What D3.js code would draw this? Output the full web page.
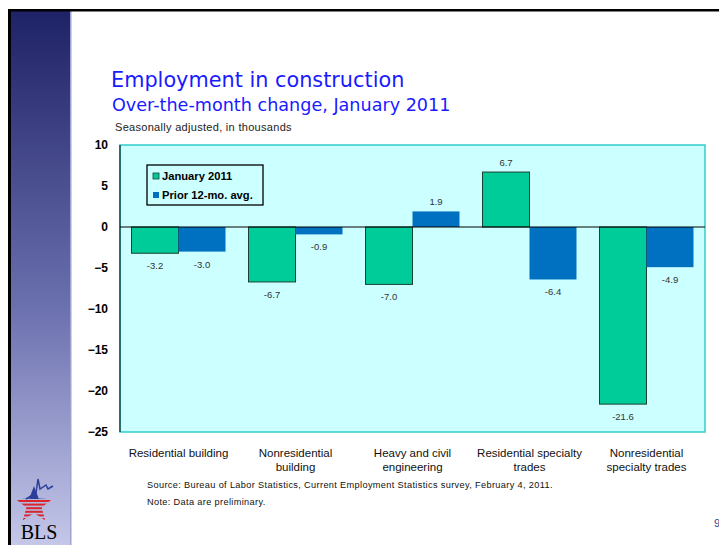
<!DOCTYPE html>
<html>
<head>
<meta charset="utf-8">
<script src="https://cdn.jsdelivr.net/npm/d3@7"></script>
<style>
  body { margin: 0; background: #fff; }
  svg { display: block; font-family: Arial, "Liberation Sans", sans-serif; }
</style>
</head>
<body>
<svg id="chart" width="719" height="545"></svg>
<script>
const categories = [
    ["Residential building"],
    ["Nonresidential", "building"],
    ["Heavy and civil", "engineering"],
    ["Residential specialty", "trades"],
    ["Nonresidential", "specialty trades"]
];
const series_names = ["January 2011", "Prior 12-mo. avg."];
const jan_2011 = [-3.2, -6.7, -7.0, 6.7, -21.6];
const prior_avg = [-3.0, -0.9, 1.9, -6.4, -4.9];
const y_ticks = [10, 5, 0, -5, -10, -15, -20, -25];

const series_colors = ["#00CC99", "#0070C0"];
const series_strokes = ["#1a4030", "none"];

const svg = d3.select("#chart");

// slide chrome: sidebar gradient, top rule, left rule
let defs = svg.append("defs");
let grad = defs.append("linearGradient")
    .attr("id", "side-grad")
    .attr("x1", 0).attr("y1", 0).attr("x2", 0).attr("y2", 1);
grad.append("stop").attr("offset", "0%").attr("stop-color", "#1e2266");
grad.append("stop").attr("offset", "55%").attr("stop-color", "#6a6fae");
grad.append("stop").attr("offset", "100%").attr("stop-color", "#c4c7e8");

svg.append("rect").attr("x", 11).attr("y", 11).attr("width", 59).attr("height", 534)
    .attr("fill", "url(#side-grad)");
svg.append("rect").attr("x", 70).attr("y", 11).attr("width", 1.5).attr("height", 534)
    .attr("fill", "#9da2d0");
svg.append("rect").attr("x", 8).attr("y", 9).attr("width", 711).attr("height", 2.5).attr("fill", "#000");
svg.append("rect").attr("x", 8).attr("y", 9).attr("width", 3).attr("height", 536).attr("fill", "#000");

// BLS logo (rough)
let logo = svg.append("g").attr("transform", "translate(34,503)");
let star = d3.range(10).map(i => {
    let r = i % 2 === 0 ? 19 : 8;
    let a = -Math.PI / 2 + i * Math.PI / 5;
    return [r * Math.cos(a), r * Math.sin(a) + 2];
});
defs.append("clipPath").attr("id", "star-clip")
    .append("polygon").attr("points", star.map(p => p.join(",")).join(" "));
let star_g = logo.append("g").attr("clip-path", "url(#star-clip)");
star_g.append("rect").attr("x", -22).attr("y", -20).attr("width", 44).attr("height", 16).attr("fill", "#2b3f9a");
d3.range(7).forEach(i => {
    star_g.append("rect").attr("x", -22).attr("y", -3 + i * 3.6).attr("width", 44).attr("height", 2)
        .attr("fill", "#d8262c");
});
logo.append("path")
    .attr("d", "M-8,-4 L2,-10 L4,-24 L6,-14 L12,-18 L14,-14 L19,-17")
    .attr("fill", "none").attr("stroke", "#2b3f9a").attr("stroke-width", 1.5);
svg.append("text").attr("x", 39).attr("y", 539).attr("text-anchor", "middle")
    .attr("font-family", "'Liberation Serif', 'DejaVu Serif', serif")
    .attr("font-size", 20).attr("fill", "#000").text("BLS");

// titles
svg.append("text").attr("x", 111).attr("y", 87)
    .attr("font-family", "Verdana, 'DejaVu Sans', sans-serif")
    .attr("font-size", 20.8).attr("fill", "#1a1aff").text("Employment in construction");
svg.append("text").attr("x", 112).attr("y", 111)
    .attr("font-family", "Verdana, 'DejaVu Sans', sans-serif")
    .attr("font-size", 17.6).attr("fill", "#1a1aff").text("Over-the-month change, January 2011");
svg.append("text").attr("x", 115).attr("y", 131)
    .attr("font-size", 11).attr("letter-spacing", 0.3).attr("fill", "#222")
    .text("Seasonally adjusted, in thousands");

// plot
const plot = { left: 120, right: 705, top: 145, bottom: 432 };

let x_scale = d3.scaleBand()
    .domain(d3.range(categories.length))
    .range([plot.left, plot.right])
    .paddingInner(0)
    .paddingOuter(0);
let x_inner = d3.scaleBand()
    .domain([0, 1])
    .range([0, x_scale.bandwidth()])
    .paddingOuter(0.245)
    .paddingInner(0);
let y_scale = d3.scaleLinear()
    .domain([-25, 10])
    .range([plot.bottom, plot.top]);

svg.append("rect")
    .attr("x", plot.left).attr("y", plot.top)
    .attr("width", plot.right - plot.left).attr("height", plot.bottom - plot.top)
    .attr("fill", "#CCFFFF").attr("stroke", "#33CCCC").attr("stroke-width", 1.5);
svg.append("line")
    .attr("x1", plot.left).attr("x2", plot.left)
    .attr("y1", plot.top).attr("y2", plot.bottom)
    .attr("stroke", "#000").attr("stroke-width", 1);

let y_axis = d3.axisLeft(y_scale).tickValues(y_ticks).tickSize(0).tickPadding(12);
let y_axis_group = svg.append("g")
    .attr("transform", "translate(" + plot.left + ",0)")
    .call(y_axis);
y_axis_group.select(".domain").remove();
y_axis_group.selectAll("text")
    .attr("font-size", 12).attr("font-weight", "bold").attr("fill", "#000")
    .attr("font-family", "Arial, 'Liberation Sans', sans-serif");

let bar_data = [];
categories.forEach((c, i) => {
    bar_data.push({ cat: i, s: 0, v: jan_2011[i] });
    bar_data.push({ cat: i, s: 1, v: prior_avg[i] });
});

svg.append("g")
    .selectAll("rect")
    .data(bar_data)
    .join("rect")
    .attr("x", d => x_scale(d.cat) + x_inner(d.s))
    .attr("y", d => y_scale(Math.max(0, d.v)))
    .attr("width", x_inner.bandwidth())
    .attr("height", d => Math.abs(y_scale(d.v) - y_scale(0)))
    .attr("fill", d => series_colors[d.s])
    .attr("stroke", d => series_strokes[d.s])
    .attr("stroke-width", 1);

// zero line
svg.append("line")
    .attr("x1", plot.left).attr("x2", plot.right)
    .attr("y1", y_scale(0)).attr("y2", y_scale(0))
    .attr("stroke", "#000").attr("stroke-width", 1.2);

// value labels
svg.append("g")
    .selectAll("text")
    .data(bar_data)
    .join("text")
    .attr("x", d => x_scale(d.cat) + x_inner(d.s) + x_inner.bandwidth() / 2)
    .attr("y", d => d.v >= 0 ? y_scale(d.v) - 6 : y_scale(d.v) + 16)
    .attr("text-anchor", "middle")
    .attr("font-size", 9.5).attr("fill", "#333")
    .text(d => d.v.toFixed(1));

// category labels
let cat_g = svg.append("g")
    .selectAll("text")
    .data(categories)
    .join("text")
    .attr("x", (d, i) => x_scale(i) + x_scale.bandwidth() / 2)
    .attr("y", 457)
    .attr("text-anchor", "middle")
    .attr("font-size", 11.5).attr("fill", "#111");
cat_g.selectAll("tspan")
    .data(d => d)
    .join("tspan")
    .attr("x", function () { return d3.select(this.parentNode).attr("x"); })
    .attr("dy", (d, i) => i === 0 ? 0 : 14)
    .text(d => d);

// legend
let legend = svg.append("g").attr("transform", "translate(147,165)");
legend.append("rect").attr("width", 116).attr("height", 40)
    .attr("fill", "#CCFFFF").attr("stroke", "#000").attr("stroke-width", 1.3);
series_names.forEach((name, i) => {
    legend.append("rect")
        .attr("x", 6).attr("y", 8 + i * 19)
        .attr("width", 6).attr("height", 6)
        .attr("fill", series_colors[i])
        .attr("stroke", series_strokes[i]).attr("stroke-width", 0.8);
    legend.append("text")
        .attr("x", 15).attr("y", 15 + i * 19)
        .attr("font-size", 11.2).attr("font-weight", "bold").attr("fill", "#000")
        .text(name);
});

// notes
svg.append("text").attr("x", 147).attr("y", 488)
    .attr("font-size", 9.2).attr("letter-spacing", 0.35).attr("fill", "#111")
    .text("Source:  Bureau of Labor Statistics, Current Employment Statistics survey, February 4, 2011.");
svg.append("text").attr("x", 147).attr("y", 505)
    .attr("font-size", 9.2).attr("letter-spacing", 0.35).attr("fill", "#111")
    .text("Note: Data are preliminary.");

// page number
svg.append("text").attr("x", 714).attr("y", 527)
    .attr("font-size", 11).attr("fill", "#3a3f8f")
    .text("9");
</script>
</body>
</html>
